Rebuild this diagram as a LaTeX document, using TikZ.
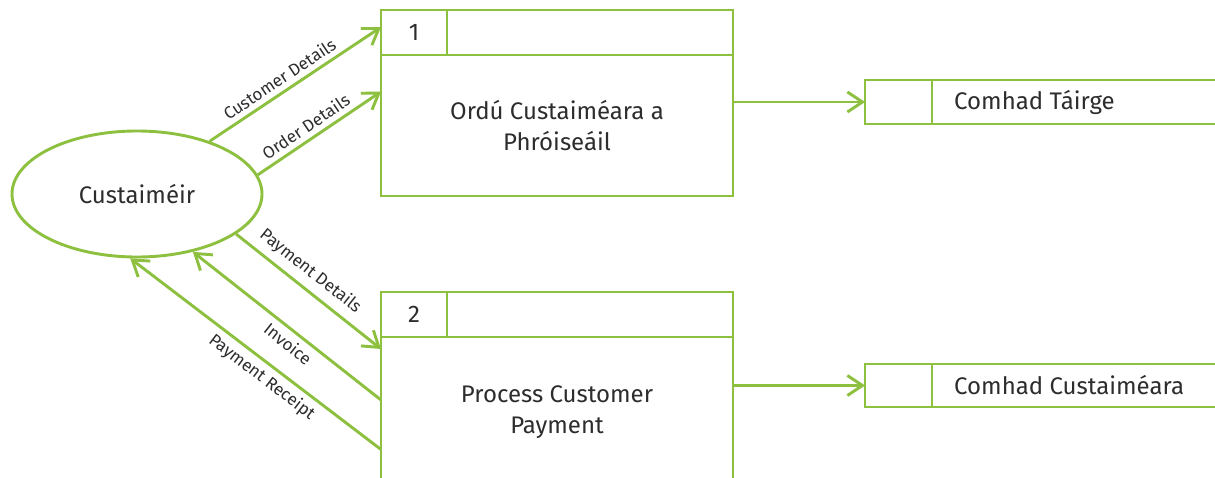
\documentclass[tikz,border=0pt]{standalone}
\usepackage{fontspec}
\setmainfont{Fira Sans}
\usetikzlibrary{arrows.meta,shapes.geometric,calc}
\definecolor{dfd}{RGB}{141,192,63}
\definecolor{txt}{RGB}{45,45,45}
\begin{document}
\begin{tikzpicture}[x=1pt,y=-1pt,
  line/.style={draw=dfd,line width=2.9pt},
  flow/.style={draw=dfd,line width=2.9pt,-{Straight Barb[length=15pt,width=20pt]}},
  cell/.style={line,rectangle,inner sep=0pt,outer sep=0pt,minimum width=#1},
  main/.style={text=txt,font=\fontsize{24}{31}\selectfont,align=center},
  lab/.style={text=txt,font=\fontsize{17}{20}\selectfont,sloped,inner sep=5pt},
]
\clip (0,0) rectangle (1215,477);
\fill[white] (0,0) rectangle (1215,477);
% external entity
\node[ellipse,line,minimum width=250pt,minimum height=126pt,inner sep=0pt,main] (cust) at (137,194) {Custaiméir};
% process 1
\node[cell=352pt,minimum height=45pt] (hdr1) at (557,32.5) {};
\node[cell=66pt,minimum height=45pt,main] (num1) at (414,32.5) {1};
\node[cell=352pt,minimum height=141pt,main] (body1) at (557,125.5) {Ordú Custaiméara a\\Phróiseáil};
% process 2
\node[cell=352pt,minimum height=45pt] (hdr2) at (557,314.5) {};
\node[cell=66pt,minimum height=45pt,main] (num2) at (414,314.5) {2};
\node[cell=352pt,minimum height=150pt,main] (body2) at (557,412) {Process Customer\\Payment};
% data stores
\node[cell=380pt,minimum height=44pt] (st1) at (1055,102) {};
\node[cell=67pt,minimum height=44pt] (st1id) at (898.5,102) {};
\node[main,anchor=west,inner sep=0pt] (st1t) at (954,102) {Comhad Táirge};
\node[cell=380pt,minimum height=43pt] (st2) at (1055,385.5) {};
\node[cell=67pt,minimum height=43pt] (st2id) at (898.5,385.5) {};
\node[main,anchor=west,inner sep=0pt] (st2t) at (954,385.5) {Comhad Custaiméara};
% flows
\draw[flow] (st1.west -| body1.east) -- (st1.west);
\draw[flow] (st2.west -| body2.east) -- (st2.west);
\draw[flow] (cust.36) -- node[lab,above,pos=0.45]{Customer Details} ($(hdr1.north west)!0.38!(hdr1.south west)$);
\draw[flow] (cust.9) -- node[lab,above,pos=0.45]{Order Details} ($(body1.north west)!0.26!(body1.south west)$);
\draw[flow] (cust.-22) -- node[lab,above,pos=0.44,inner sep=7pt]{Payment Details} ($(body2.north west)!0.08!(body2.south west)$);
\draw[flow] ($(body2.north west)!0.42!(body2.south west)$) -- node[lab,below,pos=0.45]{Invoice} (cust.-46);
\draw[flow] ($(body2.north west)!0.75!(body2.south west)$) -- node[lab,below,pos=0.44]{Payment Receipt} (cust.-96);
\end{tikzpicture}
\end{document}
